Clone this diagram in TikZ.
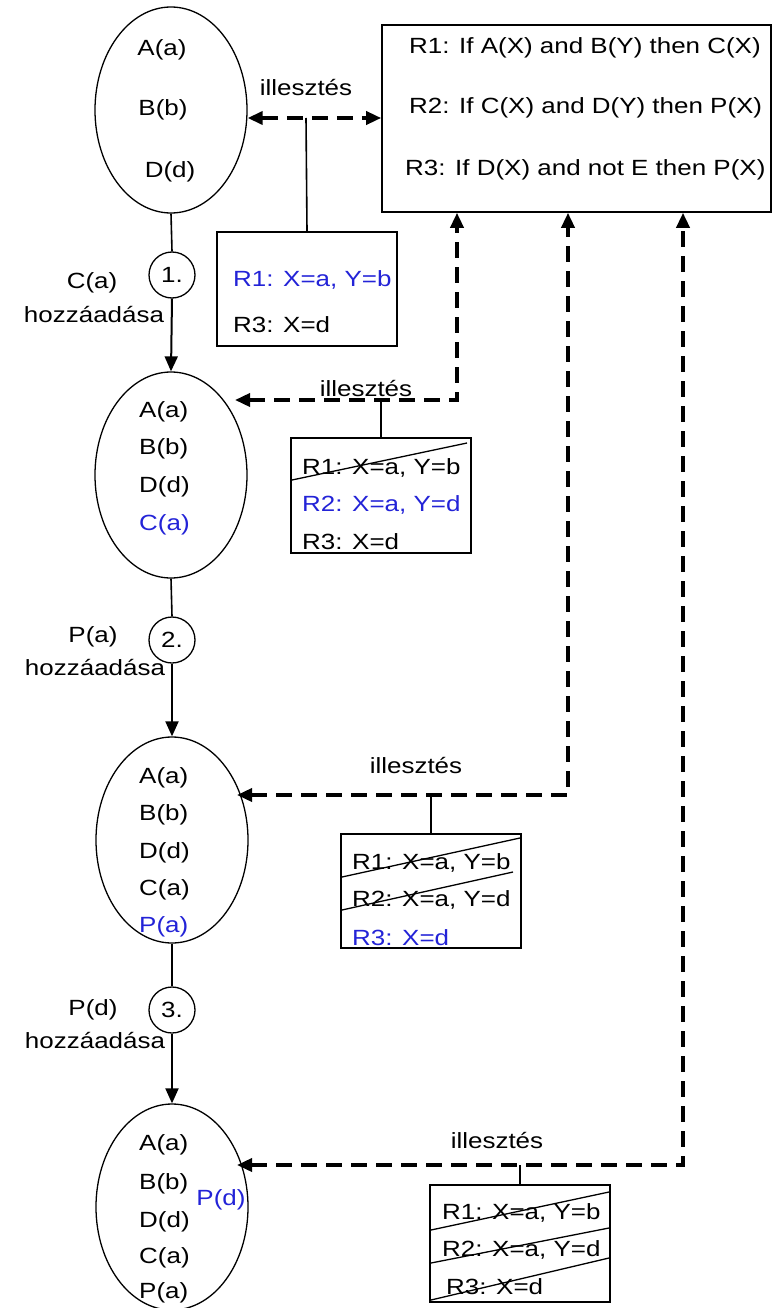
\documentclass[tikz,border=0pt]{standalone}
\usepackage{fontspec}
\setmainfont{Liberation Sans}[FakeStretch=1.18]
\usetikzlibrary{shapes, positioning, arrows.meta, calc}
\definecolor{factblue}{RGB}{35,35,215}

\begin{document}
\begin{tikzpicture}[
    x=1pt, y=-1pt,
    facts/.style={
        ellipse,
        draw=black,
        line width=1.3pt,
        minimum width=152pt,
        minimum height=206pt,
        inner sep=0pt
    },
    fact/.style={
        font=\fontsize{22}{26}\selectfont,
        inner sep=0pt
    },
    newfact/.style={
        fact,
        text=factblue
    },
    stepno/.style={
        circle,
        draw=black,
        line width=1.3pt,
        minimum size=46pt,
        inner sep=0pt,
        font=\fontsize{22}{26}\selectfont
    },
    matchbox/.style={
        rectangle,
        draw=black,
        line width=1.6pt,
        minimum width=180pt,
        inner sep=0pt
    },
    match/.style={
        line width=3.5pt,
        dash pattern=on 16pt off 9pt,
        {Triangle[length=15pt, width=13pt]}-{Triangle[length=15pt, width=13pt]}
    },
    flow/.style={
        line width=2pt,
        -{Triangle[length=15pt, width=13pt]}
    },
    link/.style={
        line width=1.6pt
    },
    strike/.style={
        line width=1.3pt
    }
]
    \useasboundingbox (0,0) rectangle (773,1308);

    % Rule base
    \node[rectangle, draw=black, line width=1.6pt, minimum width=389pt,
          minimum height=187pt, inner sep=0pt] (rules) at (576.5,118.5) {};
    \node[fact, anchor=west] (r1) at (409,48) {R1: If A(X) and B(Y) then C(X)};
    \node[fact, anchor=west] (r2) at (409,108) {R2: If C(X) and D(Y) then P(X)};
    \node[fact, anchor=west] (r3) at (405,170) {R3: If D(X) and not E then P(X)};

    % Fact base, step 0
    \node[facts] (e1) at (171,110) {};
    \node[fact] (e1a) at (162,50) {A(a)};
    \node[fact] (e1b) at (163,110) {B(b)};
    \node[fact] (e1d) at (170,172) {D(d)};

    % Fact base, step 1
    \node[facts] (e2) at (171,475) {};
    \node[fact, anchor=west] (e2a) at (139,412) {A(a)};
    \node[fact, anchor=west] (e2b) at (139,449) {B(b)};
    \node[fact, anchor=west] (e2d) at (139,487) {D(d)};
    \node[newfact, anchor=west] (e2c) at (139,525) {C(a)};

    % Fact base, step 2
    \node[facts] (e3) at (172,840) {};
    \node[fact, anchor=west] (e3a) at (139,778) {A(a)};
    \node[fact, anchor=west] (e3b) at (139,815) {B(b)};
    \node[fact, anchor=west] (e3d) at (139,853) {D(d)};
    \node[fact, anchor=west] (e3c) at (139,890) {C(a)};
    \node[newfact, anchor=west] (e3p) at (139,927) {P(a)};

    % Fact base, step 3
    \node[facts] (e4) at (172,1207) {};
    \node[fact, anchor=west] (e4a) at (139,1145) {A(a)};
    \node[fact, anchor=west] (e4b) at (139,1184) {B(b)};
    \node[fact, anchor=west] (e4d) at (139,1222) {D(d)};
    \node[fact, anchor=west] (e4c) at (139,1258) {C(a)};
    \node[fact, anchor=west] (e4p) at (139,1293) {P(a)};
    \node[newfact] (e4pd) at (221,1200) {P(d)};

    % Steps
    \node[stepno] (s1) at (172,275) {1.};
    \node[stepno] (s2) at (172,640) {2.};
    \node[stepno] (s3) at (172,1010) {3.};
    \node[fact] (add1) at (92,283) {C(a)};
    \node[fact] (add1b) at (94,315) {hozzáadása};
    \node[fact] (add2) at (93,637) {P(a)};
    \node[fact] (add2b) at (95,668) {hozzáadása};
    \node[fact] (add3) at (93,1010) {P(d)};
    \node[fact] (add3b) at (95,1040) {hozzáadása};

    \draw[link] (e1.south) -- (s1.north);
    \draw[flow] (s1.south) -- (e2.north);
    \draw[link] (e2.south) -- (s2.north);
    \draw[flow] (s2.south) -- (e3.north);
    \draw[link] (e3.south) -- (s3.north);
    \draw[flow] (s3.south) -- (e4.north);

    % Conflict sets
    \node[matchbox, minimum height=114pt] (box1) at (307,289) {};
    \node[newfact, anchor=west] (b1r1) at (233,280) {R1: X=a, Y=b};
    \node[fact, anchor=west] (b1r3) at (233,325) {R3: X=d};

    \node[matchbox, minimum height=115pt] (box2) at (381,495.5) {};
    \node[fact, anchor=west] (b2r1) at (302,468) {R1: X=a, Y=b};
    \node[newfact, anchor=west] (b2r2) at (302,505) {R2: X=a, Y=d};
    \node[fact, anchor=west] (b2r3) at (302,542) {R3: X=d};
    \draw[strike] (292,480) -- (467,443);

    \node[matchbox, minimum height=114pt] (box3) at (431,891) {};
    \node[fact, anchor=west] (b3r1) at (352,863) {R1: X=a, Y=b};
    \node[fact, anchor=west] (b3r2) at (352,900) {R2: X=a, Y=d};
    \node[newfact, anchor=west] (b3r3) at (352,938) {R3: X=d};
    \draw[strike] (342,877) -- (520,838);
    \draw[strike] (342,910) -- (513,872);

    \node[matchbox, minimum height=117pt] (box4) at (520,1243.5) {};
    \node[fact, anchor=west] (b4r1) at (442,1213) {R1: X=a, Y=b};
    \node[fact, anchor=west] (b4r2) at (442,1250) {R2: X=a, Y=d};
    \node[fact, anchor=west] (b4r3) at (446,1287) {R3: X=d};
    \draw[strike] (431,1230) -- (609,1192);
    \draw[strike] (431,1263) -- (609,1228);
    \draw[strike] (431,1300) -- (609,1258);

    % Matching
    \coordinate (m1) at (306,118);
    \node[fact] (il1) at (306,88) {illesztés};
    \draw[match] (e1.east |- m1) -- (rules.west |- m1);
    \draw[link] (m1) -- (box1.north);

    \coordinate (t2) at (235,400);
    \coordinate (k2) at (457,400);
    \node[fact] (il2) at (366,389) {illesztés};
    \draw[match] (t2) -- (k2) -- (k2 |- rules.south);
    \draw[link] (box2.north |- t2) -- (box2.north);

    \coordinate (t3) at (237,795);
    \coordinate (k3) at (568,795);
    \node[fact] (il3) at (416,765) {illesztés};
    \draw[match] (t3) -- (k3) -- (k3 |- rules.south);
    \draw[link] (box3.north |- t3) -- (box3.north);

    \coordinate (t4) at (237,1165);
    \coordinate (k4) at (683,1165);
    \node[fact] (il4) at (497,1140) {illesztés};
    \draw[match] (t4) -- (k4) -- (k4 |- rules.south);
    \draw[link] (box4.north |- t4) -- (box4.north);

\end{tikzpicture}
\end{document}
